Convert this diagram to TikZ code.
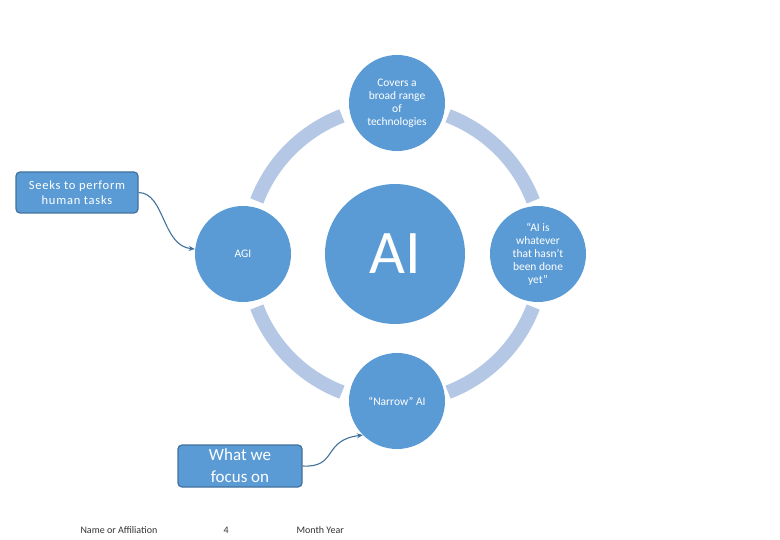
\documentclass[tikz,border=0pt]{standalone}
\usepackage{fontspec}
\setmainfont{Carlito}
\usetikzlibrary{arrows.meta}
\definecolor{mainblue}{RGB}{91,155,213}
\definecolor{ringblue}{RGB}{180,200,230}
\definecolor{edgeblue}{RGB}{65,113,156}
\definecolor{foot}{RGB}{50,50,50}
\begin{document}
\begin{tikzpicture}[x=1pt,y=-1pt,
  bigc/.style={circle,fill=mainblue,minimum size=140pt,inner sep=0pt,text=white,font=\fontsize{62}{62}\selectfont},
  smallc/.style={circle,fill=mainblue,minimum size=96pt,inner sep=0pt,text=white,align=center,font=\fontsize{11.5}{13}\selectfont},
  callout/.style={draw=edgeblue,line width=1.2pt,fill=mainblue,rounded corners=4pt,text=white,align=center,inner sep=0pt},
  ring/.style={ringblue,line width=14pt},
  conn/.style={edgeblue,line width=1.1pt,-{Stealth[length=6pt,width=5pt]}},
  footer/.style={text=foot,font=\fontsize{10}{11}\selectfont,anchor=west}]
\useasboundingbox (0,0) rectangle (780,540);
\coordinate (c) at (395,254);
\foreach \a in {21,111,201,291}{
  \draw[ring] ([shift={(\a:148pt)}]c) arc[start angle=\a,end angle=\a+48,radius=148pt];
}
\node[bigc] (ai) at (395,254) {AI};
\node[smallc] (top) at (397,103) {Covers a\\broad range\\of\\technologies};
\node[smallc] (agi) at (243,254) {AGI};
\node[smallc] (right) at (538,254) {“AI is\\whatever\\that hasn’t\\been done\\yet”};
\node[smallc] (bottom) at (397,401) {“Narrow” AI};
\node[callout,minimum width=122pt,minimum height=41pt,font=\fontsize{12.5}{15}\selectfont\addfontfeature{LetterSpace=6}] (b1) at (77,192.5) {Seeks to perform\\human tasks};
\node[callout,minimum width=124pt,minimum height=42pt,font=\fontsize{17}{22}\selectfont] (b2) at (240,466) {What we\\focus on};
\draw[conn] (b1.east) .. controls (165,193) and (162,246) .. (agi.west |- 0,249);
\draw[conn] (b2.east) .. controls (338,468) and (322,440) .. (bottom.south west);
\node[footer] (f1) at (77,530) {Name or Affiliation};
\node[footer] (f2) at (220,530) {4};
\node[footer] (f3) at (293,530) {Month Year};
\end{tikzpicture}
\end{document}
